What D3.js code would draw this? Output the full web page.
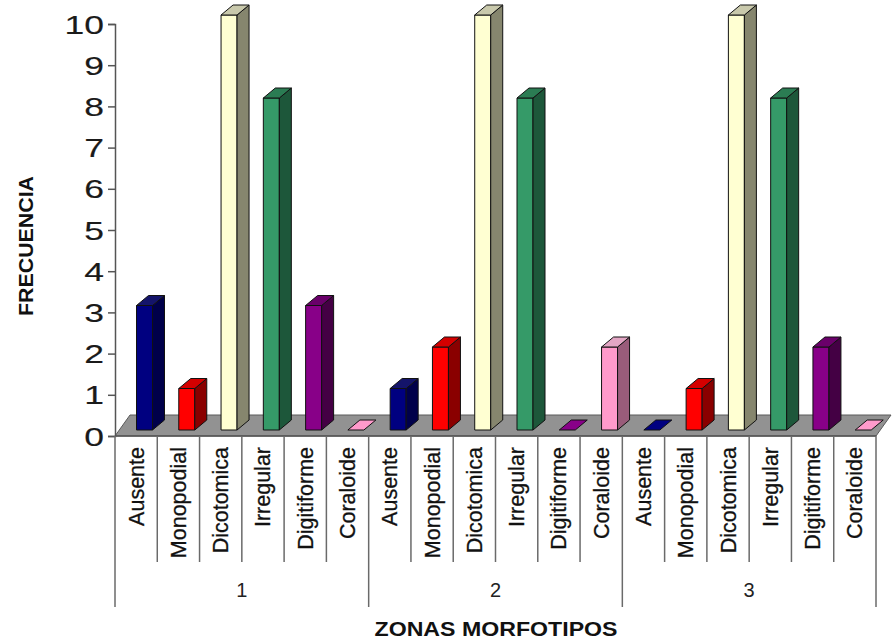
<!DOCTYPE html>
<html>
<head>
<meta charset="utf-8">
<script src="https://cdn.jsdelivr.net/npm/d3@7"></script>
<style>
  html, body { margin: 0; padding: 0; background: #ffffff; }
  svg { display: block; font-family: Arial, "Liberation Sans", sans-serif; }
</style>
</head>
<body>
<svg id="chart" width="894" height="643"></svg>
<script>
// Morphotype frequencies per zone
const zones = ["1", "2", "3"];
const morphotypes = ["Ausente", "Monopodial", "Dicotomica", "Irregular", "Digitiforme", "Coraloide"];
const zone1 = [3, 1, 10, 8, 3, 0];
const zone2 = [1, 2, 10, 8, 0, 2];
const zone3 = [0, 1, 10, 8, 2, 0];
const yTicks = [0, 1, 2, 3, 4, 5, 6, 7, 8, 9, 10];
const axisTitleY = "FRECUENCIA";
const axisTitleX = "ZONAS MORFOTIPOS";

// Face colours per morphotype: front, side, top
const faceColors = {
  Ausente:     { front: "#000080", side: "#00004a", top: "#14146a" },
  Monopodial:  { front: "#ff0000", side: "#8a0000", top: "#d40000" },
  Dicotomica:  { front: "#ffffd2", side: "#86866e", top: "#c9c9ac" },
  Irregular:   { front: "#359a68", side: "#1d573a", top: "#2b7c53" },
  Digitiforme: { front: "#880088", side: "#440044", top: "#6a006a" },
  Coraloide:   { front: "#ff9acb", side: "#995c7a", top: "#e3a6c4" }
};

const zoneValues = [zone1, zone2, zone3];
const rows = [];
zones.forEach((z, zi) => {
  morphotypes.forEach((m, mi) => {
    rows.push({ key: z + "|" + m, zone: z, morph: m, value: zoneValues[zi][mi] });
  });
});

const svg = d3.select("#chart");

// Layout
const left = 115, right = 876, floorFront = 436;
const floorDx = 15, floorDy = -21;
const barDx = 12, barDy = -10, barW = 16, barOffset = 21.5;

const x = d3.scaleBand().domain(rows.map(d => d.key)).range([left, right]).padding(0);
const yAxisScale = d3.scaleLinear().domain([0, 10]).range([floorFront, 24]);
const yBar = d3.scaleLinear().domain([0, 10]).range([430, 15]);

// Floor
svg.append("polygon")
  .attr("points", [
    [left, floorFront], [right, floorFront],
    [right + floorDx, floorFront + floorDy], [left + floorDx, floorFront + floorDy]
  ].map(p => p.join(",")).join(" "))
  .attr("fill", "#929292")
  .attr("stroke", "#5a5a5a")
  .attr("stroke-width", 1);

// Bars
const bars = svg.append("g").selectAll("g.bar").data(rows).join("g").attr("class", "bar");
bars.each(function(d) {
  const g = d3.select(this);
  const c = faceColors[d.morph];
  const x0 = x(d.key) + barOffset;
  const x1 = x0 + barW;
  const yb = yBar(0), yt = yBar(d.value);
  const poly = (pts, fill) => g.append("polygon")
    .attr("points", pts.map(q => q.join(",")).join(" "))
    .attr("fill", fill)
    .attr("stroke", "#111")
    .attr("stroke-width", 1)
    .attr("stroke-linejoin", "round");
  if (d.value > 0) {
    poly([[x0, yt], [x1, yt], [x1, yb], [x0, yb]], c.front);
    poly([[x1, yb], [x1 + barDx, yb + barDy], [x1 + barDx, yt + barDy], [x1, yt]], c.side);
  }
  poly([[x0, yt], [x0 + barDx, yt + barDy], [x1 + barDx, yt + barDy], [x1, yt]], d.value > 0 ? c.top : c.front);
});

// Value axis
const yAxis = svg.append("g")
  .attr("transform", `translate(${left},0)`)
  .call(d3.axisLeft(yAxisScale).tickValues(yTicks).tickSize(7).tickSizeOuter(7).tickPadding(0).tickFormat(d3.format("d")));
yAxis.select(".domain").attr("stroke", "#555").attr("stroke-width", 1.5);
yAxis.selectAll(".tick line").attr("stroke", "#555").attr("stroke-width", 1.5);
yAxis.selectAll(".tick text")
  .attr("x", null)
  .attr("dy", null)
  .attr("fill", "#1a1a1a")
  .attr("font-size", 25)
  .attr("stroke", "#1a1a1a")
  .attr("stroke-width", 0.15)
  .attr("text-anchor", "end")
  .attr("transform", "translate(-11,9) scale(1.42,1)");

// Category frame below the floor
const cat = svg.append("g");
cat.append("line")
  .attr("x1", left).attr("x2", right).attr("y1", floorFront).attr("y2", floorFront)
  .attr("stroke", "#555").attr("stroke-width", 1.5);
const edges = d3.range(rows.length + 1);
cat.selectAll("line.edge").data(edges).join("line")
  .attr("class", "edge")
  .attr("x1", i => left + i * x.bandwidth())
  .attr("x2", i => left + i * x.bandwidth())
  .attr("y1", floorFront)
  .attr("y2", i => (i % morphotypes.length === 0 ? 607 : 562))
  .attr("stroke", "#6a6a6a").attr("stroke-width", 1.5);

// Morphotype labels
cat.selectAll("text.morph").data(rows).join("text")
  .attr("class", "morph")
  .attr("transform", d => `translate(${x(d.key) + x.bandwidth() / 2 + 7.5},447) rotate(-90)`)
  .attr("text-anchor", "end")
  .attr("font-size", 21.5)
  .attr("fill", "#111")
  .attr("stroke", "#111")
  .attr("stroke-width", 0.3)
  .text(d => d.morph);

// Zone labels
cat.selectAll("text.zone").data(zones).join("text")
  .attr("class", "zone")
  .attr("x", (z, i) => left + (i * 6 + 3) * x.bandwidth())
  .attr("y", 597)
  .attr("text-anchor", "middle")
  .attr("font-size", 20)
  .attr("fill", "#222")
  .text(z => z);

// Axis titles
svg.append("text")
  .attr("transform", "translate(33,246) rotate(-90)")
  .attr("text-anchor", "middle")
  .attr("font-size", 20)
  .attr("font-weight", "bold")
  .attr("fill", "#111")
  .attr("textLength", 140)
  .attr("lengthAdjust", "spacingAndGlyphs")
  .text(axisTitleY);

svg.append("text")
  .attr("x", 496)
  .attr("y", 636)
  .attr("text-anchor", "middle")
  .attr("font-size", 21)
  .attr("font-weight", "bold")
  .attr("fill", "#111")
  .attr("textLength", 243)
  .attr("lengthAdjust", "spacingAndGlyphs")
  .text(axisTitleX);
</script>
</body>
</html>
